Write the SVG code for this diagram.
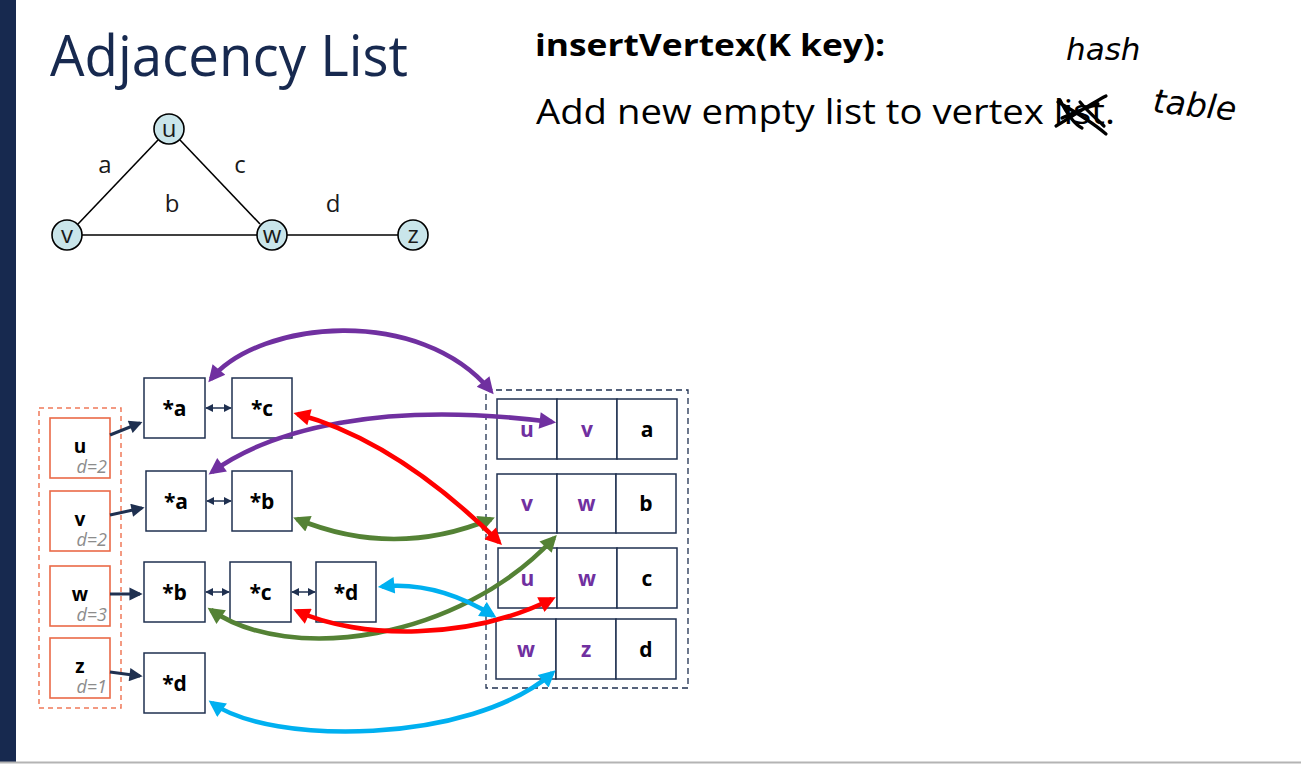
<svg xmlns="http://www.w3.org/2000/svg" width="1301" height="764" viewBox="0 0 1301 764">
  <style>
    .title { font-family: "Open Sans", "Noto Sans", sans-serif; fill: #17294f; }
    .head { font-family: "Open Sans", "Noto Sans", sans-serif; font-weight: bold; fill: #000; }
    .body { font-family: "Open Sans", "Noto Sans", sans-serif; fill: #000; }
    .hand { font-family: "DejaVu Sans", sans-serif; font-style: italic; font-weight: 200; fill: #000; }
    .gnode { fill: #c9e5ea; stroke: #000; stroke-width: 1.6; }
    .gedge { stroke: #000; stroke-width: 1.6; fill: none; }
    .glbl { font-family: "Open Sans", "Noto Sans", sans-serif; font-size: 24px; fill: #1a1a1a; text-anchor: middle; }
    .vbox { fill: #fff; stroke: #ea6a48; stroke-width: 1.6; }
    .vname { font-family: "Open Sans", "Noto Sans", sans-serif; font-weight: bold; font-size: 19px; fill: #000; text-anchor: middle; }
    .deg { font-family: "Open Sans", "Noto Sans", sans-serif; font-style: italic; font-size: 18px; fill: #8c8c8c; text-anchor: end; }
    .ebox { fill: #fff; stroke: #1f3050; stroke-width: 1.5; }
    .etxt { font-family: "Open Sans", "Noto Sans", sans-serif; font-weight: bold; font-size: 21px; fill: #000; text-anchor: middle; }
    .vtx { fill: #7030a0; }
    .link { stroke: #1f3050; stroke-width: 1.5; fill: none; marker-start: url(#sm); marker-end: url(#sm); }
    .ptr { stroke: #1f3050; stroke-width: 3; fill: none; marker-end: url(#ptrhead); }
    .arc { fill: none; stroke-width: 4.6; }
  </style>
  <defs>
    <marker id="sm" viewBox="0 0 10 10" refX="9" refY="5" markerWidth="8" markerHeight="8" markerUnits="userSpaceOnUse" orient="auto-start-reverse">
      <path d="M0,0 L10,5 L0,10 z" fill="#1f3050"/>
    </marker>
    <marker id="ptrhead" viewBox="0 0 10 10" refX="8" refY="5" markerWidth="4.8" markerHeight="4.4" orient="auto">
      <path d="M0,0 L10,5 L0,10 z" fill="#1f3050"/>
    </marker>
    <marker id="ah-purple" viewBox="0 0 10 10" refX="7.5" refY="5" markerWidth="4.1" markerHeight="3.6" orient="auto-start-reverse">
      <path d="M0,0 L10,5 L0,10 z" fill="#7030a0"/>
    </marker>
    <marker id="ah-red" viewBox="0 0 10 10" refX="7.5" refY="5" markerWidth="4.1" markerHeight="3.6" orient="auto-start-reverse">
      <path d="M0,0 L10,5 L0,10 z" fill="#ff0000"/>
    </marker>
    <marker id="ah-green" viewBox="0 0 10 10" refX="7.5" refY="5" markerWidth="4.1" markerHeight="3.6" orient="auto-start-reverse">
      <path d="M0,0 L10,5 L0,10 z" fill="#548235"/>
    </marker>
    <marker id="ah-blue" viewBox="0 0 10 10" refX="7.5" refY="5" markerWidth="4.1" markerHeight="3.6" orient="auto-start-reverse">
      <path d="M0,0 L10,5 L0,10 z" fill="#00b0f0"/>
    </marker>
  </defs>

  <!-- slide frame -->
  <rect x="0" y="0" width="1301" height="764" fill="#fff"/>
  <rect x="0" y="0" width="16" height="762" fill="#17294f"/>
  <line x1="0" y1="762.5" x2="1301" y2="762.5" stroke="#b4b4b4" stroke-width="2"/>

  <!-- headings -->
  <text class="title" x="50" y="76" font-size="56" textLength="358" lengthAdjust="spacingAndGlyphs">Adjacency List</text>
  <text class="head" x="535" y="56" font-size="30" textLength="350" lengthAdjust="spacingAndGlyphs">insertVertex(K key):</text>
  <text class="body" x="536" y="124" font-size="35" textLength="579" lengthAdjust="spacingAndGlyphs">Add new empty list to vertex list.</text>

  <!-- handwritten annotation -->
  <g id="annotation">
    <path d="M1058,102 C1072,110 1092,122 1106,134 M1056,126 C1070,118 1090,104 1106,96 M1060,100 C1066,112 1074,124 1082,128 M1080,102 C1088,112 1098,120 1104,126 M1062,118 C1074,112 1086,108 1098,104" stroke="#000" stroke-width="3.2" fill="none" stroke-linecap="round"/>
    <text class="hand" x="1066" y="60" font-size="31">hash</text>
    <text class="hand" x="1152" y="112" font-size="33" transform="rotate(6 1152 112)">table</text>
  </g>

  <!-- sample graph -->
  <g id="graph-edges">
    <line class="gedge" x1="158" y1="140" x2="78" y2="224"/>
    <line class="gedge" x1="180" y1="140" x2="260" y2="224"/>
    <line class="gedge" x1="82" y1="235" x2="257" y2="235"/>
    <line class="gedge" x1="287" y1="235" x2="398" y2="235"/>
  </g>
  <g id="graph-edge-labels">
    <text class="glbl" x="105" y="173">a</text>
    <text class="glbl" x="240" y="173">c</text>
    <text class="glbl" x="172" y="212">b</text>
    <text class="glbl" x="333" y="212">d</text>
  </g>
  <g id="gv-u"><circle class="gnode" cx="169" cy="129" r="15"/><text class="glbl" x="169" y="137">u</text></g>
  <g id="gv-v"><circle class="gnode" cx="67" cy="235" r="15"/><text class="glbl" x="67" y="243">v</text></g>
  <g id="gv-w"><circle class="gnode" cx="272" cy="235" r="15"/><text class="glbl" x="272" y="243">w</text></g>
  <g id="gv-z"><circle class="gnode" cx="413" cy="235" r="15"/><text class="glbl" x="413" y="243">z</text></g>

  <!-- vertex table -->
  <rect x="39" y="408" width="82" height="300" fill="none" stroke="#f07a5a" stroke-width="1.5" stroke-dasharray="5 4"/>
  <g id="vert-u"><rect class="vbox" x="50" y="418" width="60" height="60"/><text class="vname" x="80" y="453">u</text><text class="deg" x="107" y="473">d=2</text></g>
  <g id="vert-v"><rect class="vbox" x="50" y="491" width="60" height="60"/><text class="vname" x="80" y="526">v</text><text class="deg" x="107" y="546">d=2</text></g>
  <g id="vert-w"><rect class="vbox" x="50" y="566" width="60" height="60"/><text class="vname" x="80" y="601">w</text><text class="deg" x="107" y="621">d=3</text></g>
  <g id="vert-z"><rect class="vbox" x="50" y="638" width="60" height="60"/><text class="vname" x="80" y="673">z</text><text class="deg" x="107" y="693">d=1</text></g>

  <!-- incidence lists -->
  <g id="inc-u-a"><rect class="ebox" x="144" y="378" width="61" height="60"/><text class="etxt" x="174.5" y="416">*a</text></g>
  <g id="inc-u-c"><rect class="ebox" x="232" y="378" width="60" height="60"/><text class="etxt" x="262" y="416">*c</text></g>
  <g id="inc-v-a"><rect class="ebox" x="146" y="471" width="60" height="60"/><text class="etxt" x="176" y="509">*a</text></g>
  <g id="inc-v-b"><rect class="ebox" x="232" y="471" width="60" height="60"/><text class="etxt" x="262" y="509">*b</text></g>
  <g id="inc-w-b"><rect class="ebox" x="144" y="562" width="61" height="60"/><text class="etxt" x="174.5" y="600">*b</text></g>
  <g id="inc-w-c"><rect class="ebox" x="230" y="562" width="61" height="60"/><text class="etxt" x="260.5" y="600">*c</text></g>
  <g id="inc-w-d"><rect class="ebox" x="316" y="562" width="60" height="60"/><text class="etxt" x="346" y="600">*d</text></g>
  <g id="inc-z-d"><rect class="ebox" x="144" y="653" width="61" height="60"/><text class="etxt" x="174.5" y="691">*d</text></g>

  <!-- edge table -->
  <rect x="486" y="390" width="202" height="298" fill="none" stroke="#1f3050" stroke-width="1.3" stroke-dasharray="6 4"/>
  <g id="edge-a">
    <rect class="ebox" x="497" y="399" width="60" height="60"/><rect class="ebox" x="557" y="399" width="60" height="60"/><rect class="ebox" x="617" y="399" width="60" height="60"/>
    <text class="etxt vtx" x="527" y="437">u</text><text class="etxt vtx" x="587" y="437">v</text><text class="etxt" x="647" y="437">a</text>
  </g>
  <g id="edge-b">
    <rect class="ebox" x="497" y="474" width="60" height="59"/><rect class="ebox" x="557" y="474" width="59" height="59"/><rect class="ebox" x="616" y="474" width="60" height="59"/>
    <text class="etxt vtx" x="527" y="511">v</text><text class="etxt vtx" x="586.5" y="511">w</text><text class="etxt" x="646" y="511">b</text>
  </g>
  <g id="edge-c">
    <rect class="ebox" x="498" y="548" width="59" height="60"/><rect class="ebox" x="557" y="548" width="60" height="60"/><rect class="ebox" x="617" y="548" width="60" height="60"/>
    <text class="etxt vtx" x="527.5" y="586">u</text><text class="etxt vtx" x="587" y="586">w</text><text class="etxt" x="647" y="586">c</text>
  </g>
  <g id="edge-d">
    <rect class="ebox" x="496" y="619" width="60" height="60"/><rect class="ebox" x="556" y="619" width="60" height="60"/><rect class="ebox" x="616" y="619" width="60" height="60"/>
    <text class="etxt vtx" x="526" y="657">w</text><text class="etxt vtx" x="586" y="657">z</text><text class="etxt" x="646" y="657">d</text>
  </g>

  <g id="connectors">
    <!-- list links -->
    <line class="link" x1="206" y1="408" x2="231" y2="408"/>
    <line class="link" x1="207" y1="501" x2="231" y2="501"/>
    <line class="link" x1="206" y1="592" x2="229" y2="592"/>
    <line class="link" x1="292" y1="592" x2="315" y2="592"/>
    <!-- vertex to list -->
    <line class="ptr" x1="110" y1="435" x2="140" y2="423"/>
    <line class="ptr" x1="110" y1="515" x2="142" y2="508"/>
    <line class="ptr" x1="110" y1="594" x2="140" y2="594"/>
    <line class="ptr" x1="110" y1="672" x2="140" y2="676"/>
    <!-- edge back-references -->
    <path class="arc" stroke="#7030a0" marker-start="url(#ah-purple)" marker-end="url(#ah-purple)" d="M211,379 C260,320 420,305 491,391"/>
    <path class="arc" stroke="#7030a0" marker-start="url(#ah-purple)" marker-end="url(#ah-purple)" d="M212,472 C270,430 380,400 552,422"/>
    <path class="arc" stroke="#548235" marker-start="url(#ah-green)" marker-end="url(#ah-green)" d="M297,519 Q394,559 491,519"/>
    <path class="arc" stroke="#548235" marker-start="url(#ah-green)" marker-end="url(#ah-green)" d="M211,610 C290,665 460,640 554,538"/>
    <path class="arc" stroke="#ff0000" marker-start="url(#ah-red)" marker-end="url(#ah-red)" d="M297.5,414 Q397,441 499,542"/>
    <path class="arc" stroke="#ff0000" marker-start="url(#ah-red)" marker-end="url(#ah-red)" d="M297,611 C360,640 470,640 552,599"/>
    <path class="arc" stroke="#00b0f0" marker-start="url(#ah-blue)" marker-end="url(#ah-blue)" d="M382,586.5 Q437,581 493,615.5"/>
    <path class="arc" stroke="#00b0f0" marker-start="url(#ah-blue)" marker-end="url(#ah-blue)" d="M212,703 C270,745 470,745 552.5,673"/>
  </g>
</svg>
